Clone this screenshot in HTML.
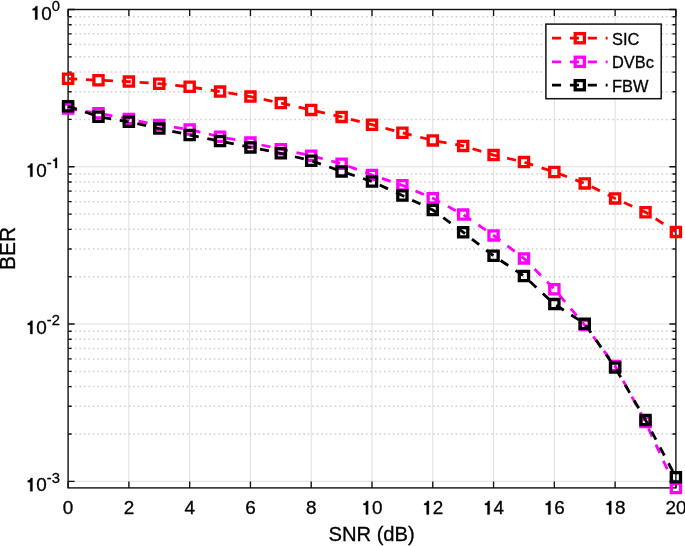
<!DOCTYPE html>
<html><head><meta charset="utf-8"><style>
html,body{margin:0;padding:0;background:#fff;width:685px;height:546px;overflow:hidden;font-family:"Liberation Sans",sans-serif;}
svg{display:block;will-change:transform;}
</style></head><body>
<svg width="685" height="546" viewBox="0 0 685 546">
<rect width="685" height="546" fill="#fff"/>
<line x1="128.88" y1="9.5" x2="128.88" y2="487.9" stroke="#dfdfdf" stroke-width="1"/>
<line x1="189.66" y1="9.5" x2="189.66" y2="487.9" stroke="#dfdfdf" stroke-width="1"/>
<line x1="250.44" y1="9.5" x2="250.44" y2="487.9" stroke="#dfdfdf" stroke-width="1"/>
<line x1="311.22" y1="9.5" x2="311.22" y2="487.9" stroke="#dfdfdf" stroke-width="1"/>
<line x1="372.00" y1="9.5" x2="372.00" y2="487.9" stroke="#dfdfdf" stroke-width="1"/>
<line x1="432.78" y1="9.5" x2="432.78" y2="487.9" stroke="#dfdfdf" stroke-width="1"/>
<line x1="493.56" y1="9.5" x2="493.56" y2="487.9" stroke="#dfdfdf" stroke-width="1"/>
<line x1="554.34" y1="9.5" x2="554.34" y2="487.9" stroke="#dfdfdf" stroke-width="1"/>
<line x1="615.12" y1="9.5" x2="615.12" y2="487.9" stroke="#dfdfdf" stroke-width="1"/>
<line x1="70.47" y1="119.43" x2="674.90" y2="119.43" stroke="#cdcdcd" stroke-width="1.5" stroke-dasharray="1.5 2.978"/>
<line x1="70.47" y1="91.73" x2="674.90" y2="91.73" stroke="#cdcdcd" stroke-width="1.5" stroke-dasharray="1.5 2.978"/>
<line x1="70.47" y1="72.08" x2="674.90" y2="72.08" stroke="#cdcdcd" stroke-width="1.5" stroke-dasharray="1.5 2.978"/>
<line x1="70.47" y1="56.84" x2="674.90" y2="56.84" stroke="#cdcdcd" stroke-width="1.5" stroke-dasharray="1.5 2.978"/>
<line x1="70.47" y1="44.39" x2="674.90" y2="44.39" stroke="#cdcdcd" stroke-width="1.5" stroke-dasharray="1.5 2.978"/>
<line x1="70.47" y1="33.86" x2="674.90" y2="33.86" stroke="#cdcdcd" stroke-width="1.5" stroke-dasharray="1.5 2.978"/>
<line x1="70.47" y1="24.74" x2="674.90" y2="24.74" stroke="#cdcdcd" stroke-width="1.5" stroke-dasharray="1.5 2.978"/>
<line x1="70.47" y1="16.70" x2="674.90" y2="16.70" stroke="#cdcdcd" stroke-width="1.5" stroke-dasharray="1.5 2.978"/>
<line x1="70.47" y1="276.70" x2="674.90" y2="276.70" stroke="#cdcdcd" stroke-width="1.5" stroke-dasharray="1.5 2.978"/>
<line x1="70.47" y1="249.00" x2="674.90" y2="249.00" stroke="#cdcdcd" stroke-width="1.5" stroke-dasharray="1.5 2.978"/>
<line x1="70.47" y1="229.35" x2="674.90" y2="229.35" stroke="#cdcdcd" stroke-width="1.5" stroke-dasharray="1.5 2.978"/>
<line x1="70.47" y1="214.11" x2="674.90" y2="214.11" stroke="#cdcdcd" stroke-width="1.5" stroke-dasharray="1.5 2.978"/>
<line x1="70.47" y1="201.66" x2="674.90" y2="201.66" stroke="#cdcdcd" stroke-width="1.5" stroke-dasharray="1.5 2.978"/>
<line x1="70.47" y1="191.13" x2="674.90" y2="191.13" stroke="#cdcdcd" stroke-width="1.5" stroke-dasharray="1.5 2.978"/>
<line x1="70.47" y1="182.01" x2="674.90" y2="182.01" stroke="#cdcdcd" stroke-width="1.5" stroke-dasharray="1.5 2.978"/>
<line x1="70.47" y1="173.97" x2="674.90" y2="173.97" stroke="#cdcdcd" stroke-width="1.5" stroke-dasharray="1.5 2.978"/>
<line x1="70.47" y1="433.97" x2="674.90" y2="433.97" stroke="#cdcdcd" stroke-width="1.5" stroke-dasharray="1.5 2.978"/>
<line x1="70.47" y1="406.27" x2="674.90" y2="406.27" stroke="#cdcdcd" stroke-width="1.5" stroke-dasharray="1.5 2.978"/>
<line x1="70.47" y1="386.62" x2="674.90" y2="386.62" stroke="#cdcdcd" stroke-width="1.5" stroke-dasharray="1.5 2.978"/>
<line x1="70.47" y1="371.38" x2="674.90" y2="371.38" stroke="#cdcdcd" stroke-width="1.5" stroke-dasharray="1.5 2.978"/>
<line x1="70.47" y1="358.93" x2="674.90" y2="358.93" stroke="#cdcdcd" stroke-width="1.5" stroke-dasharray="1.5 2.978"/>
<line x1="70.47" y1="348.40" x2="674.90" y2="348.40" stroke="#cdcdcd" stroke-width="1.5" stroke-dasharray="1.5 2.978"/>
<line x1="70.47" y1="339.28" x2="674.90" y2="339.28" stroke="#cdcdcd" stroke-width="1.5" stroke-dasharray="1.5 2.978"/>
<line x1="70.47" y1="331.24" x2="674.90" y2="331.24" stroke="#cdcdcd" stroke-width="1.5" stroke-dasharray="1.5 2.978"/>
<line x1="68.1" y1="166.77" x2="675.9" y2="166.77" stroke="#dfdfdf" stroke-width="1"/>
<line x1="68.1" y1="324.04" x2="675.9" y2="324.04" stroke="#dfdfdf" stroke-width="1"/>
<line x1="68.1" y1="481.31" x2="675.9" y2="481.31" stroke="#dfdfdf" stroke-width="1"/>
<path d="M68.10 487.9v-6.5M68.10 9.5v6.5M128.88 487.9v-6.5M128.88 9.5v6.5M189.66 487.9v-6.5M189.66 9.5v6.5M250.44 487.9v-6.5M250.44 9.5v6.5M311.22 487.9v-6.5M311.22 9.5v6.5M372.00 487.9v-6.5M372.00 9.5v6.5M432.78 487.9v-6.5M432.78 9.5v6.5M493.56 487.9v-6.5M493.56 9.5v6.5M554.34 487.9v-6.5M554.34 9.5v6.5M615.12 487.9v-6.5M615.12 9.5v6.5M675.90 487.9v-6.5M675.90 9.5v6.5M68.1 9.50h6.5M675.9 9.50h-6.5M68.1 119.43h3.5M675.9 119.43h-3.5M68.1 91.73h3.5M675.9 91.73h-3.5M68.1 72.08h3.5M675.9 72.08h-3.5M68.1 56.84h3.5M675.9 56.84h-3.5M68.1 44.39h3.5M675.9 44.39h-3.5M68.1 33.86h3.5M675.9 33.86h-3.5M68.1 24.74h3.5M675.9 24.74h-3.5M68.1 16.70h3.5M675.9 16.70h-3.5M68.1 166.77h6.5M675.9 166.77h-6.5M68.1 276.70h3.5M675.9 276.70h-3.5M68.1 249.00h3.5M675.9 249.00h-3.5M68.1 229.35h3.5M675.9 229.35h-3.5M68.1 214.11h3.5M675.9 214.11h-3.5M68.1 201.66h3.5M675.9 201.66h-3.5M68.1 191.13h3.5M675.9 191.13h-3.5M68.1 182.01h3.5M675.9 182.01h-3.5M68.1 173.97h3.5M675.9 173.97h-3.5M68.1 324.04h6.5M675.9 324.04h-6.5M68.1 433.97h3.5M675.9 433.97h-3.5M68.1 406.27h3.5M675.9 406.27h-3.5M68.1 386.62h3.5M675.9 386.62h-3.5M68.1 371.38h3.5M675.9 371.38h-3.5M68.1 358.93h3.5M675.9 358.93h-3.5M68.1 348.40h3.5M675.9 348.40h-3.5M68.1 339.28h3.5M675.9 339.28h-3.5M68.1 331.24h3.5M675.9 331.24h-3.5M68.1 481.31h6.5M675.9 481.31h-6.5" stroke="#111111" stroke-width="1.35" fill="none"/>
<rect x="68.1" y="9.5" width="607.80" height="478.40" fill="none" stroke="#111111" stroke-width="1.4"/>
<polyline points="68.10,78.75 98.49,80.20 128.88,81.60 159.27,83.70 189.66,86.80 220.05,91.60 250.44,96.60 280.83,103.10 311.22,109.90 341.61,116.90 372.00,124.70 402.39,132.80 432.78,140.40 463.17,145.90 493.56,155.10 523.95,162.10 554.34,172.00 584.73,183.40 615.12,198.40 645.51,212.20 675.90,231.90" fill="none" stroke="#ff0000" stroke-width="2.8" stroke-dasharray="9.1 8.8"/><path d="M63.50 74.15h9.2v9.2h-9.2zM93.89 75.60h9.2v9.2h-9.2zM124.28 77.00h9.2v9.2h-9.2zM154.67 79.10h9.2v9.2h-9.2zM185.06 82.20h9.2v9.2h-9.2zM215.45 87.00h9.2v9.2h-9.2zM245.84 92.00h9.2v9.2h-9.2zM276.23 98.50h9.2v9.2h-9.2zM306.62 105.30h9.2v9.2h-9.2zM337.01 112.30h9.2v9.2h-9.2zM367.40 120.10h9.2v9.2h-9.2zM397.79 128.20h9.2v9.2h-9.2zM428.18 135.80h9.2v9.2h-9.2zM458.57 141.30h9.2v9.2h-9.2zM488.96 150.50h9.2v9.2h-9.2zM519.35 157.50h9.2v9.2h-9.2zM549.74 167.40h9.2v9.2h-9.2zM580.13 178.80h9.2v9.2h-9.2zM610.52 193.80h9.2v9.2h-9.2zM640.91 207.60h9.2v9.2h-9.2zM671.30 227.30h9.2v9.2h-9.2z" fill="none" stroke="#ff0000" stroke-width="3.3"/>
<polyline points="68.10,108.60 98.49,113.20 128.88,119.10 159.27,125.10 189.66,129.50 220.05,136.80 250.44,142.60 280.83,149.20 311.22,155.70 341.61,163.70 372.00,175.00 402.39,185.30 432.78,198.30 463.17,214.60 493.56,235.40 523.95,258.40 554.34,289.20 584.73,325.00 615.12,366.00 645.51,422.00 675.90,488.00" fill="none" stroke="#ff00ff" stroke-width="2.8" stroke-dasharray="9.1 8.8"/><path d="M63.50 104.00h9.2v9.2h-9.2zM93.89 108.60h9.2v9.2h-9.2zM124.28 114.50h9.2v9.2h-9.2zM154.67 120.50h9.2v9.2h-9.2zM185.06 124.90h9.2v9.2h-9.2zM215.45 132.20h9.2v9.2h-9.2zM245.84 138.00h9.2v9.2h-9.2zM276.23 144.60h9.2v9.2h-9.2zM306.62 151.10h9.2v9.2h-9.2zM337.01 159.10h9.2v9.2h-9.2zM367.40 170.40h9.2v9.2h-9.2zM397.79 180.70h9.2v9.2h-9.2zM428.18 193.70h9.2v9.2h-9.2zM458.57 210.00h9.2v9.2h-9.2zM488.96 230.80h9.2v9.2h-9.2zM519.35 253.80h9.2v9.2h-9.2zM549.74 284.60h9.2v9.2h-9.2zM580.13 320.40h9.2v9.2h-9.2zM610.52 361.40h9.2v9.2h-9.2zM640.91 417.40h9.2v9.2h-9.2zM671.30 483.40h9.2v9.2h-9.2z" fill="none" stroke="#ff00ff" stroke-width="3.3"/>
<polyline points="68.10,106.20 98.49,116.70 128.88,121.80 159.27,128.50 189.66,135.00 220.05,141.10 250.44,147.40 280.83,153.30 311.22,160.70 341.61,171.40 372.00,181.50 402.39,195.50 432.78,210.00 463.17,232.20 493.56,255.80 523.95,276.00 554.34,304.10 584.73,323.70 615.12,367.60 645.51,420.00 675.90,477.20" fill="none" stroke="#000000" stroke-width="2.8" stroke-dasharray="9.1 8.8"/><path d="M63.50 101.60h9.2v9.2h-9.2zM93.89 112.10h9.2v9.2h-9.2zM124.28 117.20h9.2v9.2h-9.2zM154.67 123.90h9.2v9.2h-9.2zM185.06 130.40h9.2v9.2h-9.2zM215.45 136.50h9.2v9.2h-9.2zM245.84 142.80h9.2v9.2h-9.2zM276.23 148.70h9.2v9.2h-9.2zM306.62 156.10h9.2v9.2h-9.2zM337.01 166.80h9.2v9.2h-9.2zM367.40 176.90h9.2v9.2h-9.2zM397.79 190.90h9.2v9.2h-9.2zM428.18 205.40h9.2v9.2h-9.2zM458.57 227.60h9.2v9.2h-9.2zM488.96 251.20h9.2v9.2h-9.2zM519.35 271.40h9.2v9.2h-9.2zM549.74 299.50h9.2v9.2h-9.2zM580.13 319.10h9.2v9.2h-9.2zM610.52 363.00h9.2v9.2h-9.2zM640.91 415.40h9.2v9.2h-9.2zM671.30 472.60h9.2v9.2h-9.2z" fill="none" stroke="#000000" stroke-width="3.3"/>
<text transform="translate(62.85 514.40) scale(1 1.015)" font-family="Liberation Sans, sans-serif" font-size="18.9" fill="#000" stroke="#000" stroke-width="0.3">0</text>
<text transform="translate(123.63 514.40) scale(1 1.015)" font-family="Liberation Sans, sans-serif" font-size="18.9" fill="#000" stroke="#000" stroke-width="0.3">2</text>
<text transform="translate(184.41 514.40) scale(1 1.015)" font-family="Liberation Sans, sans-serif" font-size="18.9" fill="#000" stroke="#000" stroke-width="0.3">4</text>
<text transform="translate(245.19 514.40) scale(1 1.015)" font-family="Liberation Sans, sans-serif" font-size="18.9" fill="#000" stroke="#000" stroke-width="0.3">6</text>
<text transform="translate(305.97 514.40) scale(1 1.015)" font-family="Liberation Sans, sans-serif" font-size="18.9" fill="#000" stroke="#000" stroke-width="0.3">8</text>
<path transform="translate(361.49 514.40) scale(0.01890 -0.01918)" d="M232 0L352 0L352 703L262 703C245 640 200 578 101 568L101 484L232 484Z" fill="#000" stroke="#000" stroke-width="15.9"/>
<text transform="translate(372.00 514.40) scale(1 1.015)" font-family="Liberation Sans, sans-serif" font-size="18.9" fill="#000" stroke="#000" stroke-width="0.3">0</text>
<path transform="translate(422.27 514.40) scale(0.01890 -0.01918)" d="M232 0L352 0L352 703L262 703C245 640 200 578 101 568L101 484L232 484Z" fill="#000" stroke="#000" stroke-width="15.9"/>
<text transform="translate(432.78 514.40) scale(1 1.015)" font-family="Liberation Sans, sans-serif" font-size="18.9" fill="#000" stroke="#000" stroke-width="0.3">2</text>
<path transform="translate(483.05 514.40) scale(0.01890 -0.01918)" d="M232 0L352 0L352 703L262 703C245 640 200 578 101 568L101 484L232 484Z" fill="#000" stroke="#000" stroke-width="15.9"/>
<text transform="translate(493.56 514.40) scale(1 1.015)" font-family="Liberation Sans, sans-serif" font-size="18.9" fill="#000" stroke="#000" stroke-width="0.3">4</text>
<path transform="translate(543.83 514.40) scale(0.01890 -0.01918)" d="M232 0L352 0L352 703L262 703C245 640 200 578 101 568L101 484L232 484Z" fill="#000" stroke="#000" stroke-width="15.9"/>
<text transform="translate(554.34 514.40) scale(1 1.015)" font-family="Liberation Sans, sans-serif" font-size="18.9" fill="#000" stroke="#000" stroke-width="0.3">6</text>
<path transform="translate(604.61 514.40) scale(0.01890 -0.01918)" d="M232 0L352 0L352 703L262 703C245 640 200 578 101 568L101 484L232 484Z" fill="#000" stroke="#000" stroke-width="15.9"/>
<text transform="translate(615.12 514.40) scale(1 1.015)" font-family="Liberation Sans, sans-serif" font-size="18.9" fill="#000" stroke="#000" stroke-width="0.3">8</text>
<text transform="translate(665.39 514.40) scale(1 1.015)" font-family="Liberation Sans, sans-serif" font-size="18.9" fill="#000" stroke="#000" stroke-width="0.3">2</text>
<text transform="translate(675.90 514.40) scale(1 1.015)" font-family="Liberation Sans, sans-serif" font-size="18.9" fill="#000" stroke="#000" stroke-width="0.3">0</text>
<path transform="translate(30.75 19.50) scale(0.01890 -0.01890)" d="M232 0L352 0L352 703L262 703C245 640 200 578 101 568L101 484L232 484Z" fill="#000" stroke="#000" stroke-width="15.9"/>
<text transform="translate(41.26 19.50) scale(1 1.0)" font-family="Liberation Sans, sans-serif" font-size="18.9" fill="#000" stroke="#000" stroke-width="0.3">0</text>
<text transform="translate(51.77 10.80) scale(1 1.0)" font-family="Liberation Sans, sans-serif" font-size="14.8" fill="#000" stroke="#000" stroke-width="0.3">0</text>
<path transform="translate(25.83 176.77) scale(0.01890 -0.01890)" d="M232 0L352 0L352 703L262 703C245 640 200 578 101 568L101 484L232 484Z" fill="#000" stroke="#000" stroke-width="15.9"/>
<text transform="translate(36.33 176.77) scale(1 1.0)" font-family="Liberation Sans, sans-serif" font-size="18.9" fill="#000" stroke="#000" stroke-width="0.3">0</text>
<text transform="translate(46.84 168.07) scale(1 1.0)" font-family="Liberation Sans, sans-serif" font-size="14.8" fill="#000" stroke="#000" stroke-width="0.3">-</text>
<path transform="translate(51.77 168.07) scale(0.01480 -0.01480)" d="M232 0L352 0L352 703L262 703C245 640 200 578 101 568L101 484L232 484Z" fill="#000" stroke="#000" stroke-width="20.3"/>
<path transform="translate(25.83 334.04) scale(0.01890 -0.01890)" d="M232 0L352 0L352 703L262 703C245 640 200 578 101 568L101 484L232 484Z" fill="#000" stroke="#000" stroke-width="15.9"/>
<text transform="translate(36.33 334.04) scale(1 1.0)" font-family="Liberation Sans, sans-serif" font-size="18.9" fill="#000" stroke="#000" stroke-width="0.3">0</text>
<text transform="translate(46.84 325.34) scale(1 1.0)" font-family="Liberation Sans, sans-serif" font-size="14.8" fill="#000" stroke="#000" stroke-width="0.3">-</text>
<text transform="translate(51.77 325.34) scale(1 1.0)" font-family="Liberation Sans, sans-serif" font-size="14.8" fill="#000" stroke="#000" stroke-width="0.3">2</text>
<path transform="translate(25.83 491.31) scale(0.01890 -0.01890)" d="M232 0L352 0L352 703L262 703C245 640 200 578 101 568L101 484L232 484Z" fill="#000" stroke="#000" stroke-width="15.9"/>
<text transform="translate(36.33 491.31) scale(1 1.0)" font-family="Liberation Sans, sans-serif" font-size="18.9" fill="#000" stroke="#000" stroke-width="0.3">0</text>
<text transform="translate(46.84 482.61) scale(1 1.0)" font-family="Liberation Sans, sans-serif" font-size="14.8" fill="#000" stroke="#000" stroke-width="0.3">-</text>
<text transform="translate(51.77 482.61) scale(1 1.0)" font-family="Liberation Sans, sans-serif" font-size="14.8" fill="#000" stroke="#000" stroke-width="0.3">3</text>
<text transform="translate(371.60 541.20) scale(1 1.0)" font-family="Liberation Sans, sans-serif" font-size="20.2" text-anchor="middle" fill="#000" stroke="#000" stroke-width="0.3" >SNR (dB)</text>
<text transform="translate(14.8 248.5) rotate(-90) scale(1 1.06)" font-family="Liberation Sans, sans-serif" font-size="20.9" text-anchor="middle" fill="#000" stroke="#000" stroke-width="0.3">BER</text>
<rect x="545.9" y="24.1" width="115.30" height="74.60" fill="#fff" stroke="#111111" stroke-width="1.5"/>
<line x1="552" y1="38.2" x2="607.6" y2="38.2" stroke="#ff0000" stroke-width="2.8" stroke-dasharray="9.1 8.8"/>
<rect x="575.20" y="33.60" width="9.2" height="9.2" fill="none" stroke="#ff0000" stroke-width="3.3"/>
<text transform="translate(612.00 44.50) scale(1 1.0)" font-family="Liberation Sans, sans-serif" font-size="16.4" text-anchor="start" fill="#000" stroke="#000" stroke-width="0.3" >SIC</text>
<line x1="552" y1="61.8" x2="607.6" y2="61.8" stroke="#ff00ff" stroke-width="2.8" stroke-dasharray="9.1 8.8"/>
<rect x="575.20" y="57.20" width="9.2" height="9.2" fill="none" stroke="#ff00ff" stroke-width="3.3"/>
<text transform="translate(612.00 68.10) scale(1 1.0)" font-family="Liberation Sans, sans-serif" font-size="16.4" text-anchor="start" fill="#000" stroke="#000" stroke-width="0.3" >DVBc</text>
<line x1="552" y1="85.2" x2="607.6" y2="85.2" stroke="#000000" stroke-width="2.8" stroke-dasharray="9.1 8.8"/>
<rect x="575.20" y="80.60" width="9.2" height="9.2" fill="none" stroke="#000000" stroke-width="3.3"/>
<text transform="translate(612.00 91.50) scale(1 1.0)" font-family="Liberation Sans, sans-serif" font-size="16.4" text-anchor="start" fill="#000" stroke="#000" stroke-width="0.3" >FBW</text>
</svg>
</body></html>
